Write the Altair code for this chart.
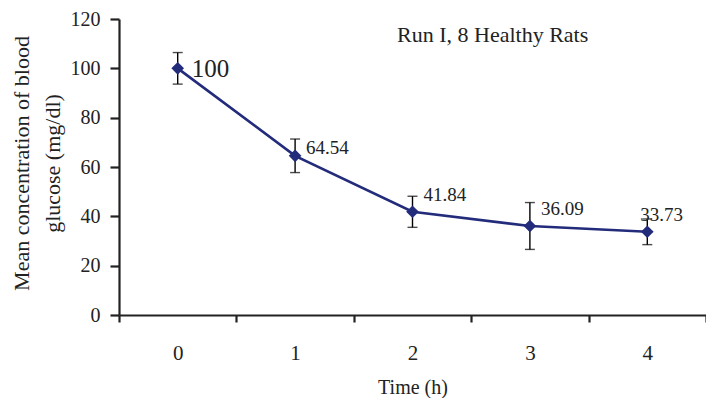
import altair as alt
import pandas as pd

times = ["0", "1", "2", "3", "4"]
means = [100, 64.54, 41.84, 36.09, 33.73]
errors = [6.4, 6.8, 6.3, 9.5, 5.2]
chart_title = ["Run I, 8 Healthy Rats"]

df = pd.DataFrame({
    "time": times,
    "mean": means,
    "lo": [m - e for m, e in zip(means, errors)],
    "hi": [m + e for m, e in zip(means, errors)],
})

FONT = "Liberation Serif"
NAVY = "#232b7b"
INK = "#222222"

x = alt.X("time:O", title="Time (h)",
          scale=alt.Scale(paddingInner=0, paddingOuter=0),
          axis=alt.Axis(labelAngle=0, tickBand="extent", tickSize=7, labelPadding=20,
                        labelFont=FONT, titleFont=FONT,
                        labelFontSize=21, titleFontSize=20, titleY=72,
                        titleBaseline="middle"))
y = alt.Y("mean:Q", title=["Mean  concentration of blood", "glucose (mg/dl)"],
          scale=alt.Scale(domain=[0, 120], nice=False),
          axis=alt.Axis(values=[0, 20, 40, 60, 80, 100, 120], tickSize=9, labelPadding=10,
                        labelFont=FONT, titleFont=FONT,
                        labelFontSize=20, titleFontSize=22, titleLineHeight=31,
                        titleX=-98, titleY=144, titleBaseline="middle", grid=False))

base = alt.Chart(df)

rules = base.mark_rule(color="black", strokeWidth=1.4).encode(x=x, y="lo:Q", y2="hi:Q")
caps_hi = base.mark_tick(color="black", thickness=1.4, size=10).encode(x="time:O", y="hi:Q")
caps_lo = base.mark_tick(color="black", thickness=1.4, size=10).encode(x="time:O", y="lo:Q")
line = base.mark_line(color=NAVY, strokeWidth=2.6).encode(x=x, y=y)
pts = base.mark_point(shape="diamond", filled=True, size=160, color=NAVY, opacity=1).encode(x="time:O", y="mean:Q")

label_style = [  # (dx, dy, fontSize) per time point
    (14, 1, 25), (11, -8, 19), (11, -17, 19), (11, -17, 19), (-7, -17, 19)
]
labels = []
for t, (dx, dy, fs) in zip(times, label_style):
    labels.append(
        base.transform_filter(alt.datum.time == t)
        .mark_text(align="left", baseline="middle", dx=dx, dy=dy, fontSize=fs,
                   font=FONT, color=INK)
        .encode(x="time:O", y="mean:Q", text=alt.Text("mean:Q", format=".4~r"))
    )

title_txt = alt.Chart(pd.DataFrame({"t": chart_title})).mark_text(
    align="left", baseline="alphabetic", fontSize=22, font=FONT, color=INK
).encode(x=alt.value(278), y=alt.value(23), text="t:N")

chart = alt.layer(rules, caps_hi, caps_lo, line, pts, *labels, title_txt).properties(
    width=587, height=296,
    autosize=alt.AutoSizeParams(type="none"),
    padding={"left": 111, "top": 11, "right": 0, "bottom": 83},
).configure_view(stroke=None).configure_axis(
    labelFont=FONT, titleFont=FONT, titleFontWeight="normal",
    labelColor=INK, titleColor=INK,
    domainColor=INK, tickColor=INK, domainWidth=2.2, tickWidth=2.2,
)

chart.save("out.html", embed_options={"renderer": "svg", "actions": False})
